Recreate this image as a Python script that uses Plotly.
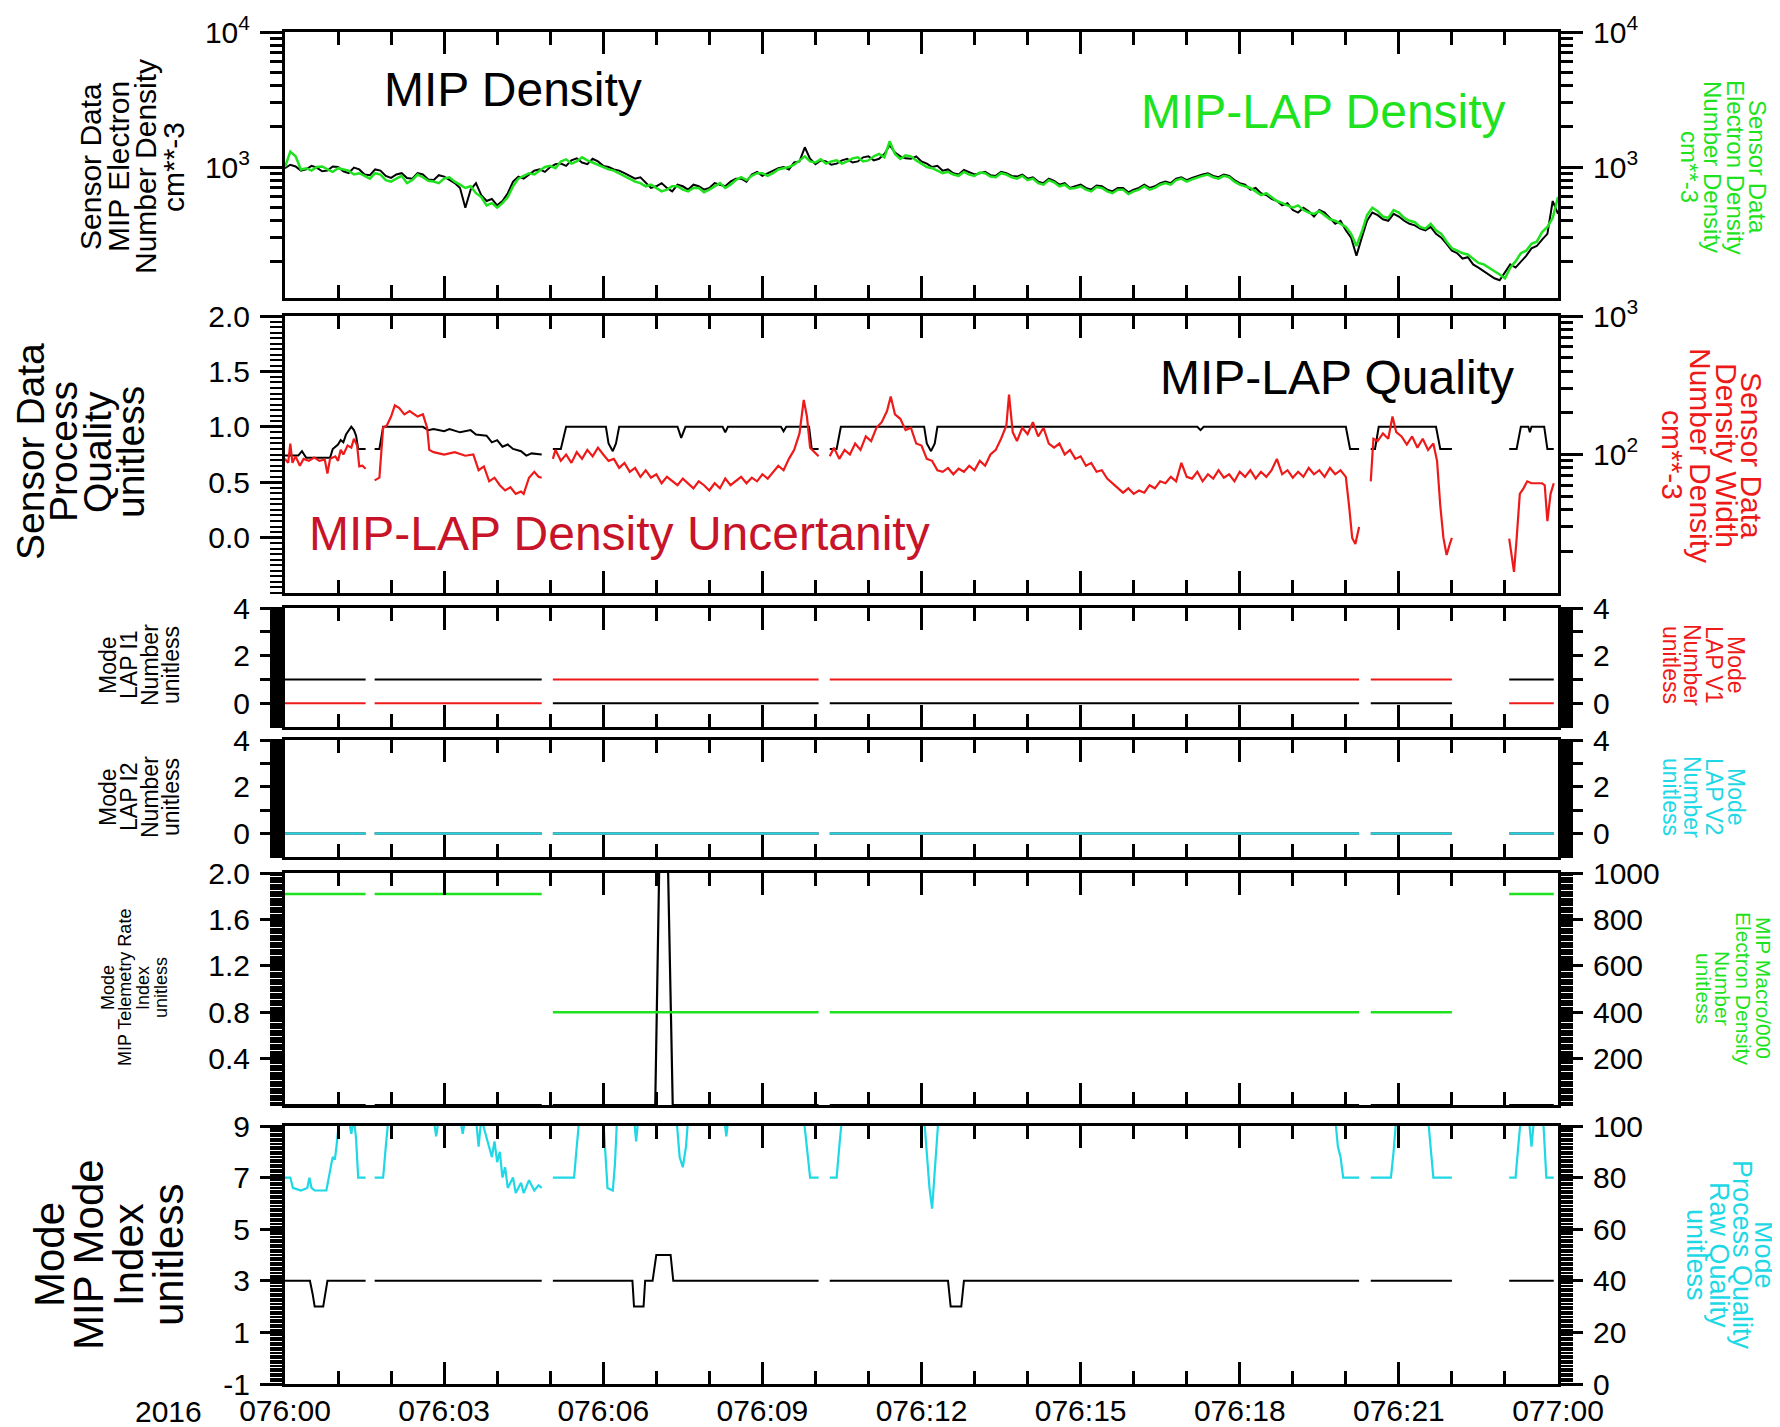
import plotly.graph_objects as go

W, H = 1780, 1427          # target picture
OFF = 8                     # default page margin of the html body
FW, FH = W - OFF, H - OFF   # figure size so that it exactly fills the window
FONT = "Liberation Sans, Arial, Helvetica, sans-serif"
BLACK = "#000000"
GREEN = "#1ee21e"
RED = "#ee1a1a"
DRED = "#c81428"
CYAN = "#1ed8e6"

# ---------------- data ----------------
# time axis in hours after 076:00 (day-of-year 076, 2016)
x_tickvals = [0, 3, 6, 9, 12, 15, 18, 21, 24]
x_ticktext = ["076:00", "076:03", "076:06", "076:09", "076:12", "076:15", "076:18", "076:21", "077:00"]

# data segments (gaps in between)
seg_start = [0.0, 1.69, 5.05, 10.27, 20.47, 23.08]
seg_end = [1.52, 4.84, 10.06, 20.25, 22.0, 23.92]

# panel 1: densities (cm^-3), every 0.1 h from 0 to 24 h
dens_t = [i / 10 for i in range(241)]
mip_density = [
    980, 1040, 1010, 940, 960, 1020, 990, 930, 940, 1010, 1000, 930, 900, 990, 960, 880, 870, 960, 940, 860,
    830, 880, 900, 830, 820, 900, 880, 810, 800, 870, 850, 800, 760, 700, 500, 680, 760, 620, 560, 580,
    520, 560, 640, 780, 850, 820, 880, 940, 960, 920, 1000, 1050, 1060, 1020, 1120, 1160, 1080, 1050, 1150, 1100,
    1020, 1000, 960, 940, 900, 860, 820, 840, 760, 700, 720, 760, 700, 660, 740, 720, 680, 740, 720, 680,
    700, 760, 740, 720, 780, 820, 820, 780, 880, 920, 860, 900, 940, 980, 1000, 960, 1080, 1100, 1400, 1150,
    1050, 1120, 1100, 1040, 1060, 1120, 1150, 1080, 1100, 1180, 1200, 1120, 1150, 1250, 1450, 1280, 1200, 1160, 1150, 1200,
    1100, 1060, 1000, 1020, 940, 960, 900, 880, 950, 920, 880, 900, 920, 870, 860, 920, 900, 860, 850, 880,
    820, 840, 780, 760, 820, 790, 740, 760, 700, 720, 740, 700, 680, 730, 720, 680, 660, 700, 700, 650,
    680, 700, 740, 700, 720, 760, 780, 760, 820, 840, 800, 830, 860, 880, 900, 860, 840, 880, 860, 800,
    760, 740, 680, 700, 640, 620, 580, 560, 520, 540, 480, 460, 500, 470, 430, 480, 460, 420, 380, 400,
    340, 300, 220, 300, 400, 460, 440, 410, 400, 450, 430, 400, 380, 370, 350, 340, 360, 320, 300, 270,
    240, 230, 210, 215, 190, 180, 170, 160, 150, 145, 165, 190, 180, 200, 220, 250, 260, 290, 320, 560,
    450]
lap_density = [
    1000, 1300, 1200, 960, 980, 940, 1000, 1010, 960, 920, 980, 960, 940, 880, 900, 860, 820, 900, 880, 800,
    780, 820, 860, 760, 800, 880, 840, 790, 780, 760, 820, 840, 780, 740, 700, 720, 640, 600, 520, 540,
    500, 540, 600, 720, 820, 860, 900, 880, 940, 1000, 1020, 980, 1100, 1140, 1060, 1100, 1180, 1120, 1080, 1040,
    1000, 960, 940, 900, 860, 820, 780, 760, 720, 740, 700, 660, 680, 720, 720, 680, 660, 700, 700, 650,
    680, 720, 760, 700, 740, 800, 840, 800, 860, 900, 900, 860, 900, 960, 980, 1000, 1040, 1120, 1200, 1100,
    1080, 1140, 1060, 1100, 1120, 1060, 1100, 1160, 1180, 1100, 1120, 1200, 1250, 1180, 1550, 1250, 1150, 1220, 1200, 1120,
    1050, 1000, 980, 940, 900, 920, 880, 860, 920, 880, 860, 910, 900, 850, 840, 900, 880, 840, 820, 860,
    800, 820, 760, 740, 800, 770, 720, 740, 690, 700, 720, 680, 660, 710, 700, 660, 640, 680, 680, 630,
    660, 680, 720, 680, 700, 740, 760, 740, 800, 820, 780, 810, 840, 860, 880, 840, 820, 860, 840, 780,
    740, 720, 700, 660, 620, 640, 600, 560, 540, 520, 500, 520, 480, 460, 450, 470, 440, 410, 400, 380,
    360, 320, 260, 330, 440, 500, 470, 430, 420, 480, 460, 420, 400, 390, 360, 350, 380, 340, 320, 280,
    250, 240, 230, 225, 210, 195, 190, 180, 170, 160, 150, 180, 200, 230, 240, 270, 280, 330, 360, 420,
    600]

# panel 2: process quality (unitless) and density width (cm^-3)
process_quality = [
    (0.0, 0.74), (0.25, 0.74), (0.32, 0.78), (0.4, 0.72), (0.6, 0.72), (0.85, 0.72), (0.9, 0.8),
    (1.0, 0.84), (1.05, 0.88), (1.1, 0.86), (1.15, 0.93), (1.2, 0.96), (1.25, 1.0), (1.3, 0.97),
    (1.34, 0.92), (1.38, 0.8), (1.52, 0.8), None,
    (1.69, 0.8), (1.78, 0.8), (1.85, 1.0), (2.6, 1.0), (2.7, 0.97), (2.8, 0.98), (3.0, 0.96),
    (3.1, 0.98), (3.3, 0.95), (3.5, 0.97), (3.6, 0.93), (3.8, 0.92), (3.9, 0.86), (4.0, 0.88),
    (4.1, 0.82), (4.2, 0.84), (4.3, 0.8), (4.45, 0.78), (4.55, 0.74), (4.65, 0.76), (4.84, 0.75), None,
    (5.05, 0.8), (5.2, 0.8), (5.3, 1.0), (6.05, 1.0), (6.1, 0.85), (6.18, 0.78), (6.24, 0.85),
    (6.3, 1.0), (7.4, 1.0), (7.47, 0.9), (7.55, 1.0), (8.25, 1.0), (8.3, 0.95), (8.35, 1.0),
    (9.35, 1.0), (9.4, 0.96), (9.45, 1.0), (9.88, 1.0), (9.93, 0.8), (10.06, 0.8), None,
    (10.27, 0.8), (10.4, 0.8), (10.48, 1.0), (12.05, 1.0), (12.1, 0.85), (12.18, 0.78),
    (12.25, 0.85), (12.3, 1.0), (17.2, 1.0), (17.26, 0.97), (17.32, 1.0), (20.0, 1.0),
    (20.08, 0.8), (20.25, 0.8), None,
    (20.47, 0.8), (20.55, 0.8), (20.62, 1.0), (21.7, 1.0), (21.78, 0.8), (22.0, 0.8), None,
    (23.08, 0.8), (23.22, 0.8), (23.3, 1.0), (23.44, 1.0), (23.47, 0.95), (23.5, 1.0),
    (23.74, 1.0), (23.8, 0.8), (23.92, 0.8)]

density_width = [
    (0.0, 93), (0.06, 87), (0.1, 120), (0.14, 87), (0.2, 97), (0.28, 83), (0.35, 93), (0.45, 90),
    (0.55, 95), (0.65, 90), (0.75, 92), (0.8, 73), (0.85, 93), (0.95, 97), (1.0, 90), (1.05, 108),
    (1.1, 100), (1.18, 116), (1.25, 112), (1.3, 130), (1.36, 116), (1.4, 82), (1.46, 83), (1.52, 79), None,
    (1.69, 65), (1.78, 68), (1.85, 156), (1.92, 162), (2.0, 188), (2.07, 226), (2.15, 217),
    (2.25, 195), (2.35, 206), (2.5, 188), (2.6, 195), (2.68, 156), (2.72, 108), (2.8, 104),
    (3.0, 100), (3.2, 104), (3.4, 98), (3.55, 100), (3.65, 77), (3.75, 82), (3.85, 64), (3.95, 68),
    (4.05, 60), (4.15, 55), (4.25, 58), (4.35, 52), (4.45, 54), (4.5, 52), (4.6, 68), (4.7, 75),
    (4.78, 69), (4.84, 68), None,
    (5.05, 93), (5.1, 108), (5.2, 90), (5.3, 100), (5.4, 87), (5.5, 104), (5.6, 93), (5.7, 108),
    (5.8, 97), (5.9, 112), (6.0, 100), (6.1, 90), (6.2, 93), (6.3, 80), (6.4, 87), (6.5, 75),
    (6.6, 80), (6.7, 69), (6.8, 77), (6.9, 68), (7.0, 72), (7.1, 62), (7.2, 69), (7.3, 64),
    (7.4, 60), (7.5, 67), (7.6, 62), (7.7, 57), (7.8, 64), (7.9, 60), (8.0, 55), (8.1, 62),
    (8.2, 57), (8.3, 67), (8.4, 60), (8.5, 64), (8.6, 69), (8.7, 62), (8.8, 68), (8.9, 64),
    (9.0, 72), (9.1, 67), (9.2, 75), (9.3, 83), (9.4, 77), (9.5, 93), (9.6, 108), (9.7, 142),
    (9.78, 248), (9.84, 188), (9.9, 112), (9.98, 104), (10.06, 97), None,
    (10.27, 97), (10.35, 112), (10.45, 93), (10.55, 108), (10.65, 100), (10.75, 120), (10.85, 108),
    (10.95, 135), (11.05, 125), (11.15, 156), (11.25, 171), (11.35, 206), (11.42, 262), (11.5, 195),
    (11.6, 181), (11.7, 150), (11.8, 156), (11.9, 120), (12.0, 116), (12.1, 93), (12.2, 90),
    (12.3, 77), (12.4, 75), (12.5, 80), (12.6, 72), (12.7, 79), (12.8, 75), (12.9, 83), (13.0, 77),
    (13.1, 90), (13.2, 83), (13.3, 100), (13.4, 108), (13.5, 130), (13.6, 162), (13.65, 271),
    (13.72, 145), (13.8, 125), (13.9, 156), (14.0, 140), (14.1, 171), (14.2, 135), (14.3, 156),
    (14.4, 120), (14.5, 112), (14.6, 120), (14.7, 100), (14.8, 108), (14.9, 93), (15.0, 97),
    (15.1, 83), (15.2, 87), (15.3, 75), (15.4, 77), (15.5, 67), (15.6, 62), (15.7, 57), (15.8, 53),
    (15.9, 57), (16.0, 52), (16.1, 55), (16.2, 53), (16.3, 60), (16.4, 57), (16.5, 64), (16.6, 62),
    (16.7, 69), (16.8, 64), (16.9, 87), (17.0, 69), (17.1, 67), (17.2, 75), (17.3, 64), (17.4, 72),
    (17.5, 67), (17.6, 77), (17.7, 68), (17.8, 72), (17.9, 64), (18.0, 75), (18.1, 69), (18.2, 77),
    (18.3, 67), (18.4, 75), (18.5, 69), (18.6, 77), (18.7, 93), (18.8, 72), (18.9, 77), (19.0, 68),
    (19.1, 75), (19.2, 69), (19.3, 80), (19.4, 72), (19.5, 77), (19.6, 69), (19.7, 80), (19.8, 72),
    (19.9, 77), (20.0, 69), (20.06, 43), (20.12, 25), (20.18, 22.6), (20.25, 30), None,
    (20.47, 64), (20.52, 130), (20.6, 125), (20.7, 142), (20.8, 130), (20.88, 188), (20.95, 145),
    (21.05, 135), (21.15, 118), (21.25, 135), (21.35, 112), (21.45, 130), (21.55, 108), (21.65, 120),
    (21.72, 90), (21.78, 43), (21.84, 25), (21.9, 18.8), (21.96, 22.6), (22.0, 25), None,
    (23.08, 24.7), (23.13, 18.8), (23.17, 14.2), (23.22, 24.7), (23.28, 52), (23.35, 57),
    (23.42, 64), (23.5, 62), (23.6, 62), (23.7, 62), (23.75, 60), (23.8, 33), (23.86, 52), (23.92, 62)]

# panels 3-5: per-segment mode levels
lap_i1 = [1, 1, 0, 0, 0, 1]
lap_v1 = [0, 0, 1, 1, 1, 0]
lap_i2 = [0, 0, 0, 0, 0, 0]
lap_v2 = [0, 0, 0, 0, 0, 0]
mip_macro = [910, 910, 400, 400, 400, 910]

telemetry_rate = [
    (0.0, 0), (1.52, 0), None, (1.69, 0), (4.84, 0), None,
    (5.05, 0), (6.98, 0), (7.09, 3), (7.18, 3), (7.31, 0), (10.06, 0), None,
    (10.27, 0), (20.25, 0), None, (20.47, 0), (22.0, 0), None, (23.08, 0), (23.92, 0)]

# panel 6: MIP mode index and raw quality (values at the top are clipped: >= 100)
mip_mode = [
    (0.0, 3), (0.47, 3), (0.52, 2.5), (0.56, 2), (0.72, 2), (0.76, 2.5), (0.8, 3), (1.52, 3), None,
    (1.69, 3), (4.84, 3), None,
    (5.05, 3), (6.55, 3), (6.58, 2), (6.76, 2), (6.79, 3), (6.93, 3), (7.0, 4), (7.27, 4),
    (7.32, 3), (10.06, 3), None,
    (10.27, 3), (12.5, 3), (12.55, 2), (12.75, 2), (12.8, 3), (20.25, 3), None,
    (20.47, 3), (22.0, 3), None, (23.08, 3), (23.92, 3)]

raw_quality = [
    (0.0, 80), (0.1, 80), (0.15, 76), (0.3, 75), (0.42, 76), (0.46, 80), (0.5, 76), (0.56, 75),
    (0.78, 75), (0.82, 80), (0.88, 86), (0.9, 88), (0.94, 87), (0.97, 92), (1.0, 98), (1.05, 103),
    (1.2, 103), (1.25, 97), (1.3, 103), (1.34, 95), (1.38, 80), (1.52, 80), None,
    (1.69, 80), (1.85, 80), (1.9, 92), (1.95, 103), (2.8, 103), (2.85, 96), (2.9, 103), (3.3, 103),
    (3.35, 97), (3.4, 103), (3.6, 103), (3.65, 92), (3.7, 103), (3.8, 96), (3.9, 88), (3.95, 94),
    (4.0, 86), (4.05, 90), (4.1, 80), (4.15, 84), (4.2, 76), (4.3, 80), (4.35, 74), (4.45, 78),
    (4.5, 74), (4.6, 79), (4.7, 75), (4.78, 77), (4.84, 76), None,
    (5.05, 80), (5.45, 80), (5.5, 92), (5.55, 103), (6.0, 103), (6.04, 90), (6.08, 76), (6.18, 75),
    (6.22, 85), (6.26, 103), (6.58, 103), (6.62, 94), (6.66, 103), (7.38, 103), (7.44, 88),
    (7.5, 84), (7.56, 92), (7.6, 103), (8.28, 103), (8.32, 96), (8.36, 103), (9.78, 103),
    (9.86, 86), (9.9, 80), (10.06, 80), None,
    (10.27, 80), (10.4, 80), (10.45, 92), (10.5, 103), (12.05, 103), (12.1, 90), (12.15, 76),
    (12.2, 68), (12.24, 80), (12.28, 92), (12.32, 103), (19.8, 103), (19.85, 92), (19.9, 88),
    (19.95, 80), (20.25, 80), None,
    (20.47, 80), (20.85, 80), (20.9, 90), (20.95, 103), (21.55, 103), (21.6, 90), (21.65, 80),
    (22.0, 80), None,
    (23.08, 80), (23.2, 80), (23.25, 92), (23.3, 103), (23.45, 103), (23.5, 92), (23.55, 103),
    (23.72, 103), (23.78, 80), (23.92, 80)]


# ---------------- helpers ----------------
def unzip(pairs):
    xs, ys = [], []
    for p in pairs:
        if p is None:
            xs.append(None)
            ys.append(None)
        else:
            xs.append(p[0])
            ys.append(p[1])
    return xs, ys


def seg_series(levels):
    xs, ys = [], []
    for s, e, v in zip(seg_start, seg_end, levels):
        xs += [s, e, None]
        ys += [v, v, None]
    return xs, ys


def px(x):
    return (x - OFF) / FW


def py(y):
    return 1 - (y - OFF) / FH


fig = go.Figure()


def add(x, y, n, right, color, width):
    xa = "x" if n == 1 else f"x{n}"
    yi = n + 6 if right else n
    ya = "y" if yi == 1 else f"y{yi}"
    fig.add_trace(go.Scatter(x=x, y=y, xaxis=xa, yaxis=ya, mode="lines",
                             line=dict(color=color, width=width), connectgaps=False,
                             showlegend=False, hoverinfo="skip"))


add(dens_t, mip_density, 1, False, BLACK, 2)
add(dens_t, lap_density, 1, True, GREEN, 2.5)
qx, qy = unzip(process_quality)
add(qx, qy, 2, False, BLACK, 2)
rx, ry = unzip(density_width)
add(rx, ry, 2, True, RED, 2.2)
x3, y3 = seg_series(lap_i1)
add(x3, y3, 3, False, BLACK, 2)
x3b, y3b = seg_series(lap_v1)
add(x3b, y3b, 3, True, RED, 2)
x4, y4 = seg_series(lap_i2)
add(x4, y4, 4, False, BLACK, 2)
x4b, y4b = seg_series(lap_v2)
add(x4b, y4b, 4, True, CYAN, 2)
tx, ty = unzip(telemetry_rate)
add(tx, ty, 5, False, BLACK, 2.2)
x5b, y5b = seg_series(mip_macro)
add(x5b, y5b, 5, True, GREEN, 2.5)
mx, my = unzip(mip_mode)
add(mx, my, 6, False, BLACK, 2)
cx, cy = unzip(raw_quality)
add(cx, cy, 6, True, CYAN, 2.2)

# ---------------- layout ----------------
panels_px = [(32, 298), (316, 593), (608, 727), (740, 857), (873, 1105), (1126, 1384)]
XL, XR = 285, 1558
TICKFONT = dict(size=30, family=FONT, color=BLACK)

layout = dict(width=FW, height=FH, margin=dict(l=0, r=0, t=0, b=0, pad=0), autosize=False,
              paper_bgcolor="white", plot_bgcolor="white", showlegend=False,
              font=dict(family=FONT, color=BLACK))

for i, (top, bot) in enumerate(panels_px):
    n = i + 1
    xkey = "xaxis" if n == 1 else f"xaxis{n}"
    layout[xkey] = dict(domain=[px(XL), px(XR)], anchor="y" if n == 1 else f"y{n}",
                        automargin=False,
                        range=[0, 24], showline=True, linewidth=3, linecolor=BLACK,
                        mirror="ticks", ticks="inside", ticklen=22, tickwidth=3, tickcolor=BLACK,
                        tickvals=x_tickvals, ticktext=x_ticktext, showticklabels=(n == 6),
                        tickfont=TICKFONT, showgrid=False, zeroline=False, ticklabelstandoff=-2,
                        minor=dict(dtick=1, ticks="inside", ticklen=13, tickwidth=3,
                                   tickcolor=BLACK, showgrid=False))


def yax(n, right, **kw):
    base = dict(domain=None, anchor="x" if n == 1 else f"x{n}", showline=True, linewidth=3,
                automargin=False,
                linecolor=BLACK, ticks="outside", ticklen=22, tickwidth=3, tickcolor=BLACK,
                showgrid=False, zeroline=False, tickfont=TICKFONT, ticklabelstandoff=4)
    top, bot = panels_px[n - 1]
    base["domain"] = [py(bot), py(top)]
    if right:
        base["overlaying"] = "y" if n == 1 else f"y{n}"
        base["side"] = "right"
    base.update(kw)
    return base


def minor_lin(dt, w=2):
    return dict(dtick=dt, ticks="outside", ticklen=12, tickwidth=w, tickcolor=BLACK, showgrid=False)


def minor_vals(vals, w=2.5):
    return dict(tickvals=vals, ticks="outside", ticklen=12, tickwidth=w, tickcolor=BLACK, showgrid=False)


dec_minor_top = [k * 100 for k in range(2, 10)] + [k * 1000 for k in range(2, 10)]
dec_minor_p2 = [k * 10 for k in range(2, 10)] + [k * 100 for k in range(2, 10)]
pow_text = ["10<sup>3</sup>", "10<sup>4</sup>"]
mode_text = ["0", " ", "2", " ", "4"]

ycfg = {
    1: yax(1, False, type="log", range=[2.03, 4], tickvals=[1000, 10000], ticktext=pow_text,
           minor=minor_vals(dec_minor_top)),
    7: yax(1, True, type="log", range=[2.03, 4], tickvals=[1000, 10000], ticktext=pow_text,
           minor=minor_vals(dec_minor_top)),
    2: yax(2, False, range=[-0.5, 2.0], tickvals=[0, 0.5, 1.0, 1.5, 2.0],
           ticktext=["0.0", "0.5", "1.0", "1.5", "2.0"], minor=minor_lin(0.05, 1.5)),
    8: yax(2, True, type="log", range=[1, 3], tickvals=[100, 1000],
           ticktext=["10<sup>2</sup>", "10<sup>3</sup>"], minor=minor_vals(dec_minor_p2)),
    3: yax(3, False, range=[-1, 4], tickvals=[0, 1, 2, 3, 4], ticktext=mode_text,
           minor=minor_lin(0.05, 1.5)),
    9: yax(3, True, range=[-1, 4], tickvals=[0, 1, 2, 3, 4], ticktext=mode_text,
           minor=minor_lin(0.05, 1.5)),
    4: yax(4, False, range=[-1, 4], tickvals=[0, 1, 2, 3, 4], ticktext=mode_text,
           minor=minor_lin(0.05, 1.5)),
    10: yax(4, True, range=[-1, 4], tickvals=[0, 1, 2, 3, 4], ticktext=mode_text,
            minor=minor_lin(0.05, 1.5)),
    5: yax(5, False, range=[0, 2.0], tickvals=[0.4, 0.8, 1.2, 1.6, 2.0],
           ticktext=["0.4", "0.8", "1.2", "1.6", "2.0"], minor=minor_lin(0.02, 1.5)),
    11: yax(5, True, range=[0, 1000], tickvals=[200, 400, 600, 800, 1000],
            ticktext=["200", "400", "600", "800", "1000"], minor=minor_lin(10, 1.5)),
    6: yax(6, False, range=[-1, 9], tickvals=[-1, 1, 3, 5, 7, 9],
           ticktext=["-1", "1", "3", "5", "7", "9"], minor=minor_lin(0.1, 1.5)),
    12: yax(6, True, range=[0, 100], tickvals=[0, 20, 40, 60, 80, 100],
            ticktext=["0", "20", "40", "60", "80", "100"], minor=minor_lin(1, 1.5)),
}
for k, v in ycfg.items():
    layout["yaxis" if k == 1 else f"yaxis{k}"] = v


def ann(text, x, y, size, color, angle=0):
    return dict(text=text, x=px(x), y=py(y), xref="paper", yref="paper", showarrow=False,
                font=dict(size=size, color=color, family=FONT), textangle=angle,
                xanchor="center", yanchor="middle")


anns = [
    ann("MIP Density", 513, 90, 48, BLACK),
    ann("MIP-LAP Density", 1323, 112, 48, GREEN),
    ann("MIP-LAP Quality", 1337, 378, 48, BLACK),
    ann("MIP-LAP Density Uncertanity", 619, 533, 48, DRED),
    ann("2016", 168, 1411, 30, BLACK),
]


def title_lines(lines, xs, y, size, color, right):
    return [ann(t, x, y, size, color, 90 if right else -90) for t, x in zip(lines, xs)]


anns += title_lines(["Sensor Data", "MIP Electron", "Number Density", "cm**-3"],
                    [90, 118, 145, 173], 167, 30, BLACK, False)
anns += title_lines(["Sensor Data", "Electron Density", "Number Density", "cm**-3"],
                    [1758, 1736, 1713, 1690], 167, 24, GREEN, True)
anns += title_lines(["Sensor Data", "Process", "Quality", "unitless"],
                    [30, 63, 97, 130], 452, 39, BLACK, False)
anns += title_lines(["Sensor Data", "Density Width", "Number Density", "cm**-3"],
                    [1752, 1727, 1701, 1673], 455, 30, RED, True)
anns += title_lines(["Mode", "LAP I1", "Number", "unitless"],
                    [108, 129, 150, 171], 665, 23, BLACK, False)
anns += title_lines(["Mode", "LAP V1", "Number", "unitless"],
                    [1736, 1714, 1692, 1671], 665, 23, RED, True)
anns += title_lines(["Mode", "LAP I2", "Number", "unitless"],
                    [108, 129, 150, 171], 797, 23, BLACK, False)
anns += title_lines(["Mode", "LAP V2", "Number", "unitless"],
                    [1736, 1714, 1692, 1671], 797, 23, CYAN, True)
anns += title_lines(["Mode", "MIP Telemetry Rate", "Index", "unitless"],
                    [108, 125, 143, 161], 988, 18, BLACK, False)
anns += title_lines(["MIP Macro/000", "Electron Density", "Number", "unitless"],
                    [1764, 1744, 1723, 1704], 988, 21, GREEN, True)
anns += title_lines(["Mode", "MIP Mode", "Index", "unitless"],
                    [49, 88, 128, 168], 1255, 42, BLACK, False)
anns += title_lines(["Mode", "Process Quality", "Raw Quality", "unitless"],
                    [1764, 1742, 1719, 1696], 1255, 27, CYAN, True)

layout["annotations"] = anns
fig.update_layout(**layout)
fig.write_html("out.html")
